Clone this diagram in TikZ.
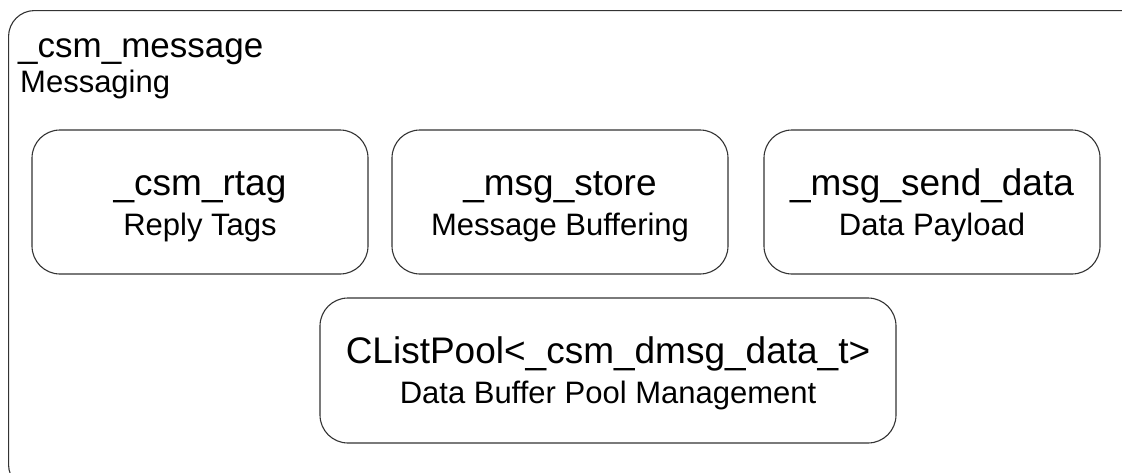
\documentclass[tikz,border=0pt]{standalone}
\usepackage{fontspec}
\setmainfont{Liberation Sans}
\begin{document}
\begin{tikzpicture}[x=1pt,y=-1pt,
  frame/.style={draw=black!80, line width=1.1pt, rounded corners=26pt, inner sep=0pt, anchor=north west},
  box/.style={draw=black!80, line width=1.1pt, rounded corners=28pt, minimum width=336pt, minimum height=144pt, inner sep=0pt},
  ttl/.style={font=\fontsize{37}{40}\selectfont, anchor=base, inner sep=0pt},
  sub/.style={font=\fontsize{31}{34}\selectfont, anchor=base, inner sep=0pt},
  otl/.style={font=\fontsize{35}{38}\selectfont, anchor=base west, inner sep=0pt},
  osub/.style={font=\fontsize{31}{34}\selectfont, anchor=base west, inner sep=0pt}]
\useasboundingbox (0,0) rectangle (1122,472);
\clip (0,0) rectangle (1122,472);
\node[frame, minimum width=1140pt, minimum height=480pt] (msg) at (8,10) {};
\node[otl] (msgT) at (18,57) {\_csm\_message};
\node[osub] (msgS) at (20,92) {Messaging};

\node[box] (rtag) at (200,202) {};
\node[ttl] (rtagT) at ([yshift=7pt]rtag.center) {\_csm\_rtag};
\node[sub] (rtagS) at ([yshift=-33pt]rtag.center) {Reply Tags};

\node[box] (store) at (560,202) {};
\node[ttl] (storeT) at ([yshift=7pt]store.center) {\_msg\_store};
\node[sub] (storeS) at ([yshift=-33pt]store.center) {Message Buffering};

\node[box] (send) at (932,202) {};
\node[ttl] (sendT) at ([yshift=7pt]send.center) {\_msg\_send\_data};
\node[sub] (sendS) at ([yshift=-33pt]send.center) {Data Payload};

\node[box, minimum width=576pt, minimum height=145pt] (pool) at (608,370.5) {};
\node[ttl] (poolT) at ([yshift=7pt]pool.center) {CListPool<\_csm\_dmsg\_data\_t>};
\node[sub] (poolS) at ([yshift=-33pt]pool.center) {Data Buffer Pool Management};
\end{tikzpicture}
\end{document}
